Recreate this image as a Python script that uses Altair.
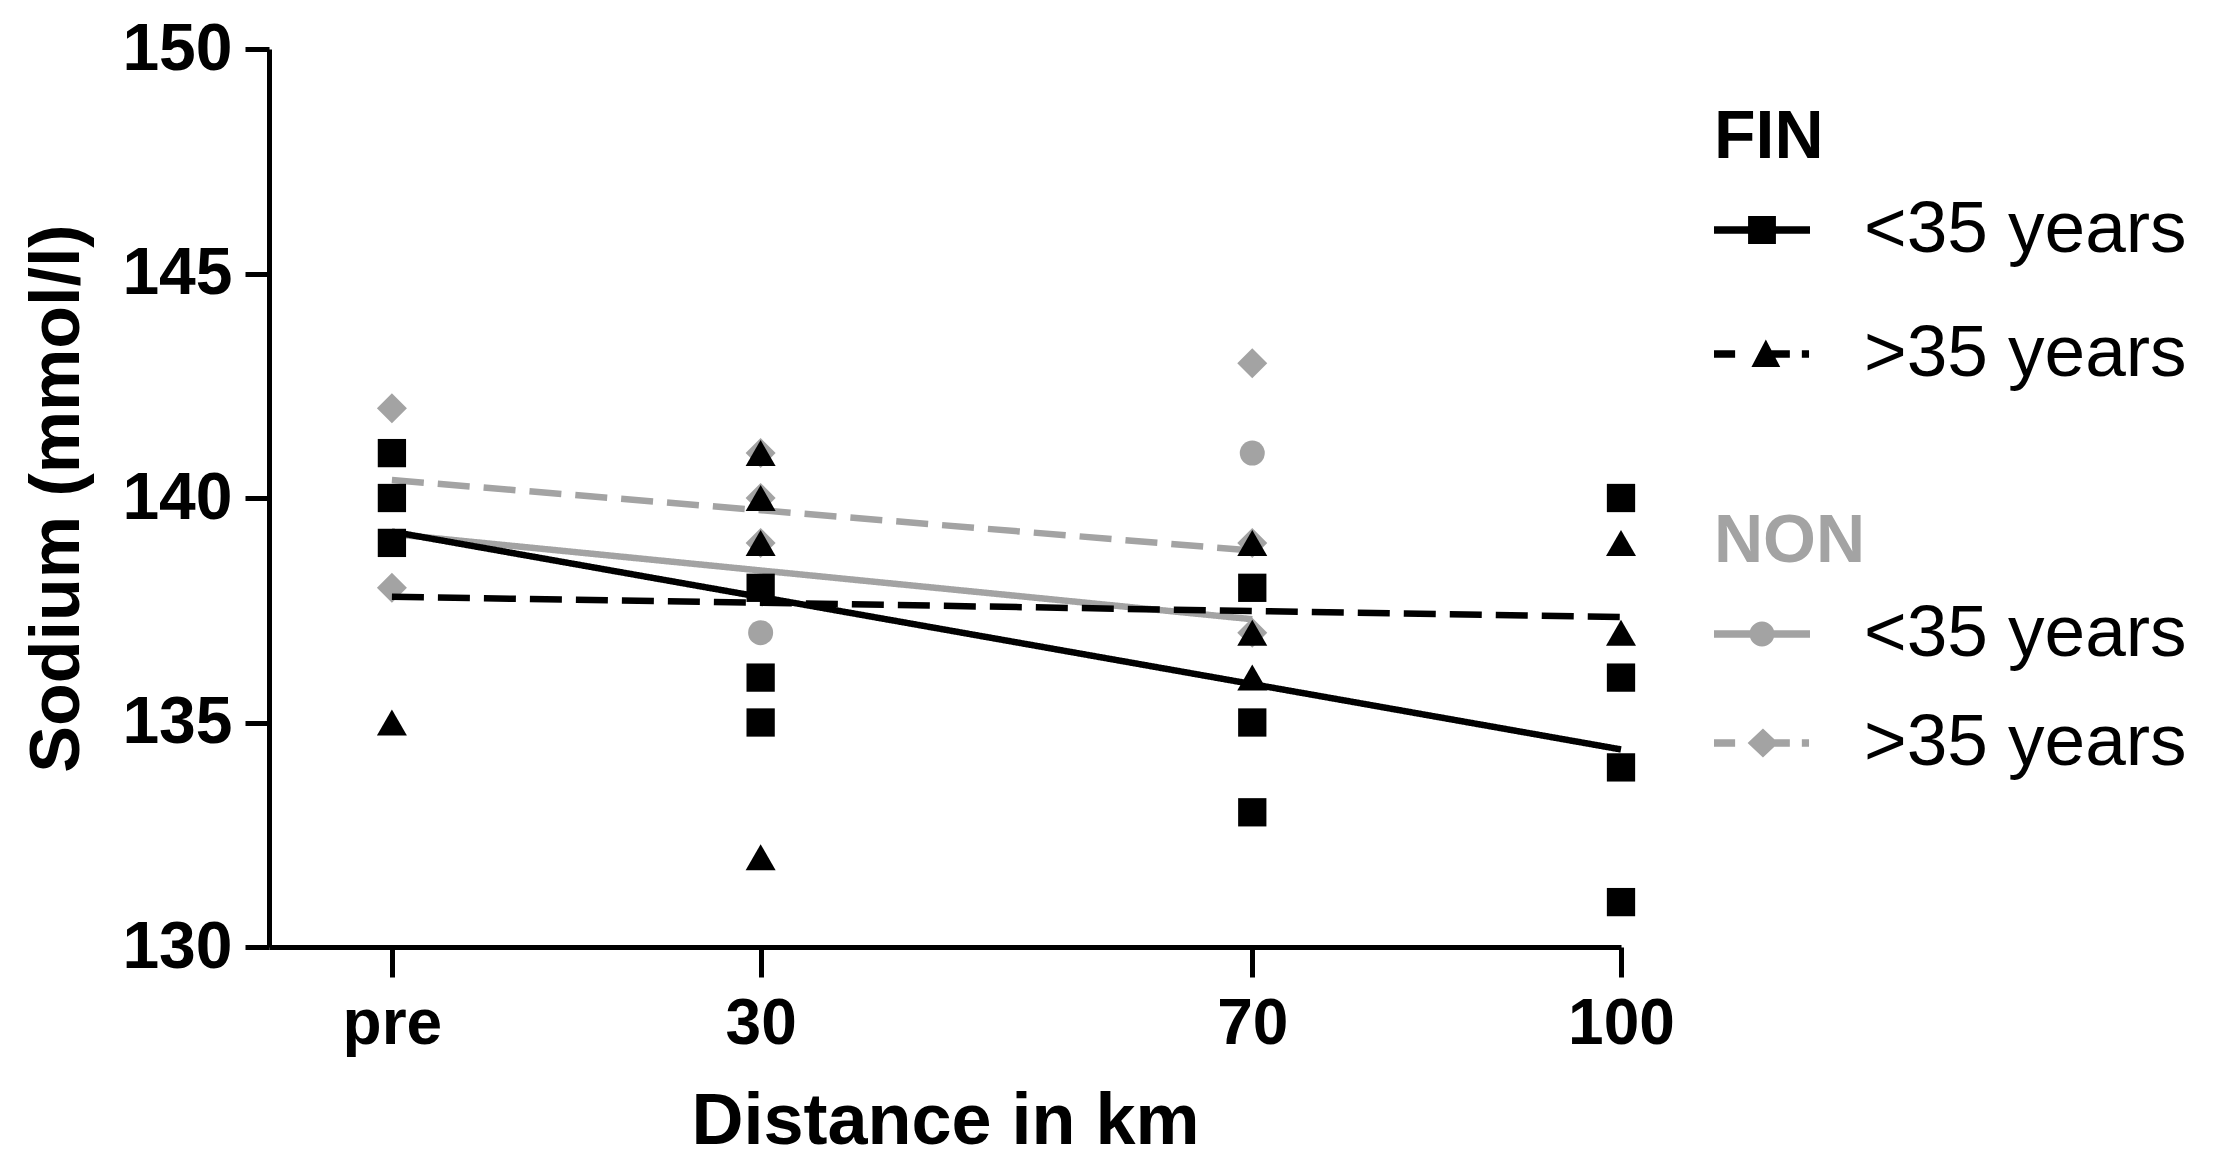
import altair as alt
import pandas as pd

# ---------------- data ----------------
group_names = ["<35 years", ">35 years"]

# FIN <35 years (black squares)
fin_young_x = [0, 0, 0, 30, 30, 30, 70, 70, 70, 100, 100, 100, 100]
fin_young_y = [141, 140, 139, 138, 136, 135, 138, 135, 133, 140, 136, 134, 131]
# FIN >35 years (black triangles)
fin_old_x = [0, 30, 30, 30, 30, 70, 70, 70, 100, 100]
fin_old_y = [135, 141, 140, 139, 132, 139, 137, 136, 139, 137]
# NON <35 years (gray circles)
non_young_x = [30, 70]
non_young_y = [137, 141]
# NON >35 years (gray diamonds)
non_old_x = [0, 0, 30, 30, 30, 70, 70, 70]
non_old_y = [142, 138, 141, 140, 139, 143, 139, 137]

# fitted lines (end points)
fin_fit_x = [0, 100]
fin_young_fit = [139.25, 134.4]
fin_old_fit = [137.8, 137.35]
non_fit_x = [0, 70]
non_young_fit = [139.2, 137.3]
non_old_fit = [140.4, 138.83]

tick_values = [0, 30, 70, 100]
tick_labels = ["pre", "30", "70", "100"]
y_ticks = [130, 135, 140, 145, 150]

BLACK = "#000000"
GRAY = "#a3a3a3"
FONT = "Liberation Sans"

label_expr = "datum.label"
for v, l in zip(tick_values, tick_labels):
    label_expr = f"datum.value == {v} ? '{l}' : ({label_expr})"

x_enc = alt.X(
    "x:Q",
    scale=alt.Scale(domain=[-10, 100], nice=False, zero=False),
    axis=alt.Axis(
        values=tick_values, labelExpr=label_expr, title="Distance in km",
        domainWidth=5, domainColor=BLACK, tickWidth=5, tickSize=30, tickColor=BLACK,
        labelFont=FONT, labelFontSize=64, labelFontWeight="bold", labelColor=BLACK,
        labelPadding=15, titleFont=FONT, titleFontSize=72, titleFontWeight="bold",
        titleColor=BLACK, titlePadding=30, grid=False, labelFlush=False,
    ),
)
y_enc = alt.Y(
    "y:Q",
    scale=alt.Scale(domain=[130, 150], nice=False, zero=False),
    axis=alt.Axis(
        values=y_ticks, title="Sodium (mmol/l)",
        domainWidth=5, domainColor=BLACK, tickWidth=5, tickSize=24, tickColor=BLACK,
        labelFont=FONT, labelFontSize=66, labelFontWeight="bold", labelColor=BLACK,
        labelPadding=13, titleFont=FONT, titleFontSize=70, titleFontWeight="bold",
        titleColor=BLACK, titlePadding=28, grid=False, labelFlush=False,
    ),
)

SYM = 9216  # legend symbol: 96 px wide
# legend glyphs: the line is drawn as thin filled rectangles
LINE = "M-1,-0.08H1V0.08H-1Z"
DASHES = ("M-1,-0.08H-0.56V0.08H-1Z"
          "M0.1,-0.08H0.58V0.08H0.1Z"
          "M0.83,-0.08H0.98V0.08H0.83Z")
SQUARE = "M-0.29,-0.29H0.29V0.29H-0.29Z"
TRIANGLE = "M-0.22,0.27L0.08,-0.3L0.38,0.27Z"
CIRCLE = "M0.26,0A0.26,0.26 0 1,1 -0.26,0A0.26,0.26 0 1,1 0.26,0Z"
DIAMOND = "M-0.3,0L0.02,-0.3L0.34,0L0.02,0.3Z"


def legend(title, title_color, path, ly):
    kw = dict(
        orient="none", legendX=1445, legendY=ly, padding=0,
        titleFont=FONT, titleFontSize=68, titleFontWeight="bold", titleColor=title_color,
        titlePadding=10, labelFont=FONT, labelFontSize=73, labelColor=BLACK,
        labelOffset=54, labelLimit=800, symbolSize=SYM, symbolType=path,
        symbolStrokeWidth=0, symbolOpacity=1,
    )
    kw["title"] = title if title else None
    return alt.Legend(**kw)


def points(xs, ys, name, shape, size, color, leg):
    df = pd.DataFrame({"x": xs, "y": ys, "group": [name] * len(xs)})
    return alt.Chart(df).mark_point(
        filled=True, opacity=1, strokeWidth=0, shape=shape, size=size
    ).encode(
        x=x_enc, y=y_enc,
        color=alt.Color("group:N", scale=alt.Scale(domain=[name], range=[color]), legend=leg),
    )


def fit_line(xs, ys, color, dash):
    df = pd.DataFrame({"x": xs, "y": ys})
    return alt.Chart(df).mark_line(color=color, strokeWidth=6.5, strokeDash=dash).encode(
        x=x_enc, y=y_enc
    )


non_young_line = fit_line(non_fit_x, non_young_fit, GRAY, [1, 0])
non_old_line = fit_line(non_fit_x, non_old_fit, GRAY, [32, 14])
fin_young_line = fit_line(fin_fit_x, fin_young_fit, BLACK, [1, 0])
fin_old_line = fit_line(fin_fit_x, fin_old_fit, BLACK, [32, 14])

non_young_pts = points(non_young_x, non_young_y, group_names[0], "circle", 625, GRAY,
                       legend("NON", GRAY, LINE + CIRCLE, 459))
non_old_pts = points(non_old_x, non_old_y, group_names[1], "diamond", 900, GRAY,
                     legend(None, GRAY, DASHES + DIAMOND, 646))
fin_young_pts = points(fin_young_x, fin_young_y, group_names[0], "square", 800, BLACK,
                       legend("FIN", BLACK, LINE + SQUARE, 55))
fin_old_pts = points(fin_old_x, fin_old_y, group_names[1], "triangle-up", 900, BLACK,
                     legend(None, BLACK, DASHES + TRIANGLE, 257))

chart = (
    alt.layer(
        non_young_line, non_old_line, non_young_pts, non_old_pts,
        fin_young_line, fin_old_line, fin_young_pts, fin_old_pts,
    )
    .resolve_scale(color="independent")
    .properties(
        width=1352, height=898,
        padding={"left": 14, "top": 8, "right": 5, "bottom": 5},
        view=alt.ViewBackground(stroke="transparent", strokeWidth=0, strokeOpacity=0),
    )
    .configure_view(stroke="transparent", strokeWidth=0, strokeOpacity=0)
    .configure_axis(grid=False)
    .configure(background="white")
)

chart.save("out.html", embed_options={"renderer": "svg", "actions": False})
